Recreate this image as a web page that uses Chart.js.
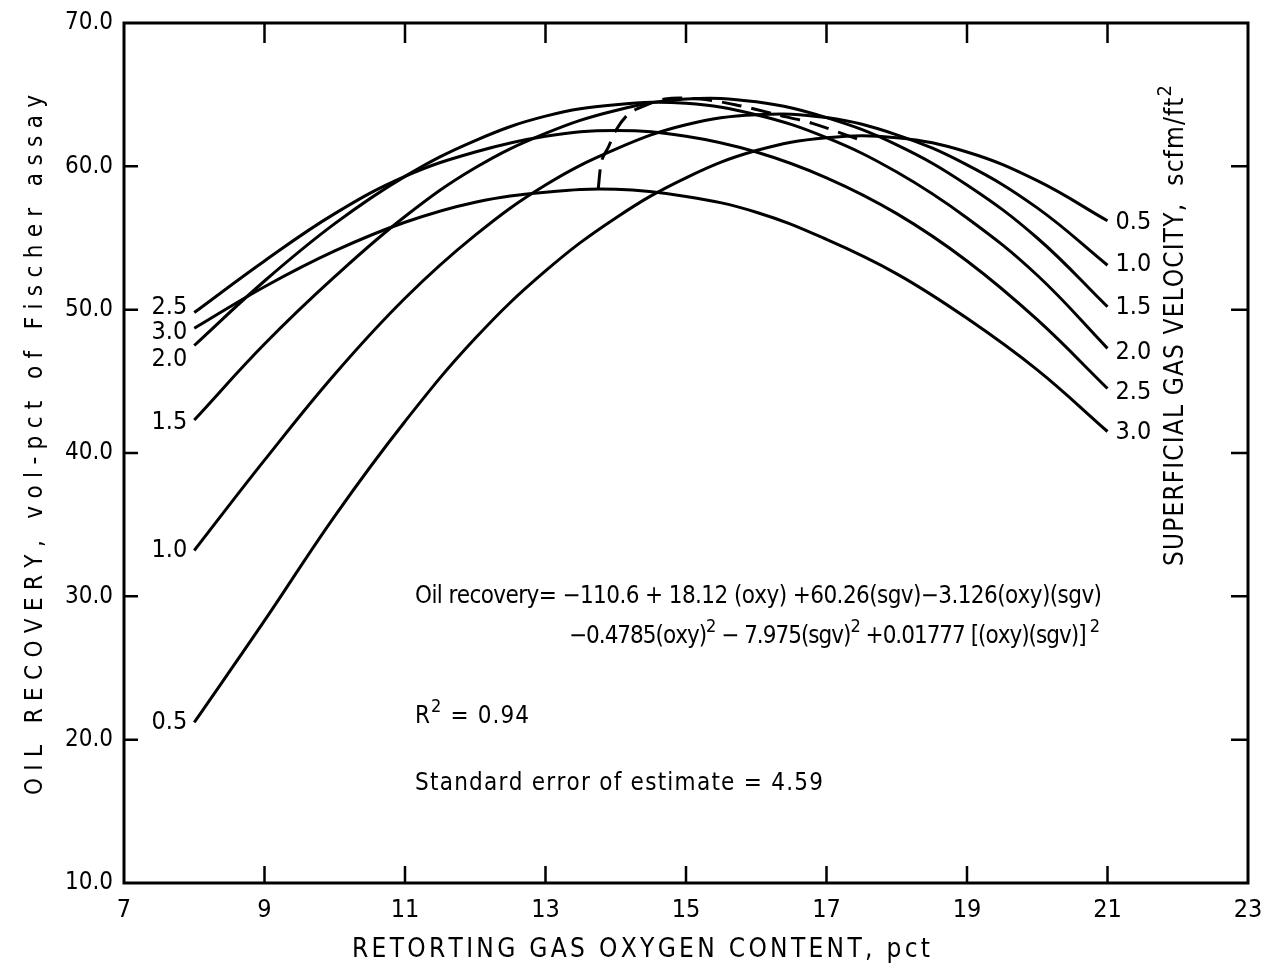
<!DOCTYPE html>
<html>
<head>
<meta charset="utf-8">
<script src="https://cdn.jsdelivr.net/npm/chart.js@4.4.1/dist/chart.umd.min.js"></script>
<style>
  html, body { margin: 0; padding: 0; background: #fff; }
  #wrap { width: 1263px; height: 963px; }
</style>
</head>
<body>
<div id="wrap"><canvas id="chart" width="1263" height="963"></canvas></div>
<script>
// retorting gas oxygen content, pct
const oxygen = [8, 9, 10, 11, 12, 13, 14, 15, 16, 17, 18, 19, 20, 21];

// oil recovery (vol-pct of Fischer assay) per superficial gas velocity
const sgv05 = [21.2, 28.3, 35.6, 42.2, 48.0, 52.7, 56.4, 59.2, 61.1, 62.0, 62.0, 61.0, 59.0, 56.2];
const sgv10 = [33.2, 39.5, 45.5, 50.8, 55.2, 58.7, 61.2, 62.9, 63.6, 63.4, 62.2, 60.1, 57.1, 53.1];
const sgv15 = [42.3, 47.6, 52.3, 56.5, 59.9, 62.3, 63.9, 64.7, 64.5, 63.4, 61.5, 58.7, 55.0, 50.2];
const sgv20 = [47.5, 52.0, 56.0, 59.3, 61.8, 63.5, 64.3, 64.4, 63.6, 62.0, 59.6, 56.4, 52.4, 47.3];
const sgv25 = [49.8, 53.4, 56.7, 59.3, 61.0, 62.1, 62.5, 62.1, 61.0, 59.2, 56.7, 53.4, 49.3, 44.5];
const sgv30 = [48.7, 51.6, 54.1, 56.1, 57.5, 58.2, 58.4, 57.9, 56.8, 54.9, 52.5, 49.4, 45.8, 41.5];
const sgvLabels = ["0.5", "1.0", "1.5", "2.0", "2.5", "3.0"];

// dashed line through the maxima
const peakOxy = [13.75, 13.8, 13.9, 14.0, 14.15, 14.3, 14.7, 15.2, 15.7, 16.3, 16.8, 17.5];
const peakRecovery = [58.4, 60.4, 61.4, 62.5, 63.5, 64.0, 64.7, 64.7, 64.3, 63.6, 63.0, 61.8];

// axis ticks
const xTicks = [7, 9, 11, 13, 15, 17, 19, 21, 23];
const yTicks = [10, 20, 30, 40, 50, 60, 70];

const FONT = "'DejaVu Sans Condensed', 'DejaVu Sans', sans-serif";
const series = [sgv05, sgv10, sgv15, sgv20, sgv25, sgv30];
// nudges for the curve labels, px
const leftNudge = [0, 0, 2, 14, -5, 4];
const rightNudge = [2, -1, 1, 4, 4, 1];

// draws text char by char, spread to a given length
function drawSpaced(ctx, parts, x, y, width, size, weight) {
  const w = weight || "normal";
  const chars = [];
  parts.forEach(([t, sup]) => { for (const ch of t) chars.push([ch, sup]); });
  const fontOf = s => w + " " + (s ? Math.round(size * 0.75) : size) + "px " + FONT;
  let natural = 0;
  chars.forEach(([ch, s]) => { ctx.font = fontOf(s); natural += ctx.measureText(ch).width; });
  const gap = chars.length > 1 ? (width - natural) / (chars.length - 1) : 0;
  let cx = x;
  chars.forEach(([ch, s]) => {
    ctx.font = fontOf(s);
    ctx.fillText(ch, cx, s ? y - size * 0.45 : y);
    cx += ctx.measureText(ch).width + gap;
  });
}

const decorations = {
  id: "decorations",
  afterDraw(chart) {
    const { ctx, chartArea: a, scales: { x, y } } = chart;
    ctx.save();
    ctx.strokeStyle = "#000";
    ctx.fillStyle = "#000";

    // frame with inward ticks
    ctx.lineWidth = 3;
    ctx.strokeRect(a.left, a.top, a.right - a.left, a.bottom - a.top);
    ctx.lineWidth = 2.5;
    ctx.beginPath();
    xTicks.slice(1, -1).forEach(v => {
      const px = x.getPixelForValue(v);
      ctx.moveTo(px, a.top); ctx.lineTo(px, a.top + 20);
      ctx.moveTo(px, a.bottom); ctx.lineTo(px, a.bottom - 17);
    });
    yTicks.slice(1, -1).forEach(v => {
      const py = y.getPixelForValue(v);
      ctx.moveTo(a.left, py); ctx.lineTo(a.left + 14, py);
      ctx.moveTo(a.right, py); ctx.lineTo(a.right - 17, py);
    });
    ctx.stroke();

    // curve labels at both ends
    ctx.font = "25px " + FONT;
    ctx.textBaseline = "middle";
    series.forEach((s, i) => {
      ctx.textAlign = "right";
      ctx.fillText(sgvLabels[i], x.getPixelForValue(oxygen[0]) - 7, y.getPixelForValue(s[0]) + leftNudge[i]);
      ctx.textAlign = "left";
      const n = s.length - 1;
      ctx.fillText(sgvLabels[i], x.getPixelForValue(oxygen[n]) + 8, y.getPixelForValue(s[n]) + rightNudge[i]);
    });

    ctx.textAlign = "left";
    ctx.textBaseline = "alphabetic";

    // equation block
    drawSpaced(ctx, [["Oil recovery= \u2212110.6 + 18.12 (oxy) +60.26(sgv)\u22123.126(oxy)(sgv)", false]], 415, 603, 687, 24);
    drawSpaced(ctx, [["\u22120.4785(oxy)", false], ["2", true], [" \u2212 7.975(sgv)", false], ["2", true],
      [" +0.01777 [(oxy)(sgv)]", false], [" 2", true]], 569, 643, 531, 24);
    drawSpaced(ctx, [["R", false], ["2", true], [" = 0.94", false]], 415, 723, 114, 24);
    drawSpaced(ctx, [["Standard error of estimate = 4.59", false]], 415, 790, 408, 24);

    // x title
    drawSpaced(ctx, [["RETORTING GAS OXYGEN CONTENT, pct", false]], 352, 957, 578, 26, "500");

    // left title
    ctx.save();
    ctx.translate(42, 795);
    ctx.rotate(-Math.PI / 2);
    drawSpaced(ctx, [["OIL RECOVERY, vol-pct of Fischer assay", false]], 0, 0, 700, 24, "500");
    ctx.restore();

    // right title
    ctx.save();
    ctx.translate(1183, 566);
    ctx.rotate(-Math.PI / 2);
    drawSpaced(ctx, [["SUPERFICIAL GAS VELOCITY,  scfm/ft", false], ["2", true]], 0, 0, 481, 26);
    ctx.restore();

    ctx.restore();
  }
};

const curveSets = series.map((s, i) => ({
  label: sgvLabels[i],
  data: oxygen.map((o, j) => ({ x: o, y: s[j] })),
  borderColor: "#000",
  borderWidth: 3,
  pointRadius: 0,
  tension: 0.4,
  fill: false
}));

curveSets.push({
  label: "maxima",
  data: peakOxy.map((o, j) => ({ x: o, y: peakRecovery[j] })),
  borderColor: "#000",
  borderWidth: 3,
  borderDash: [20, 10],
  pointRadius: 0,
  tension: 0.3,
  fill: false
});

const chart = new Chart(document.getElementById("chart").getContext("2d"), {
  type: "line",
  data: { datasets: curveSets },
  plugins: [decorations],
  options: {
    responsive: false,
    animation: false,
    devicePixelRatio: 1,
    layout: { padding: { top: 23, right: 15, left: 0, bottom: 0 } },
    plugins: { legend: { display: false }, tooltip: { enabled: false } },
    scales: {
      x: {
        type: "linear",
        min: 7,
        max: 23,
        afterBuildTicks: s => { s.ticks = xTicks.map(v => ({ value: v })); },
        afterFit: s => { s.height = 80; s.paddingLeft = 0; s.paddingRight = 0; },
        grid: { display: false, drawTicks: false },
        border: { display: false },
        ticks: { color: "#000", padding: 12, font: { family: FONT, size: 25 }, maxRotation: 0 }
      },
      y: {
        min: 10,
        max: 70,
        afterBuildTicks: s => { s.ticks = yTicks.map(v => ({ value: v })); },
        afterFit: s => { s.width = 124; s.paddingTop = 0; s.paddingBottom = 0; },
        grid: { display: false, drawTicks: false },
        border: { display: false },
        ticks: { color: "#000", padding: 11, font: { family: FONT, size: 24 }, callback: v => v.toFixed(1) }
      }
    }
  }
});
</script>
</body>
</html>
